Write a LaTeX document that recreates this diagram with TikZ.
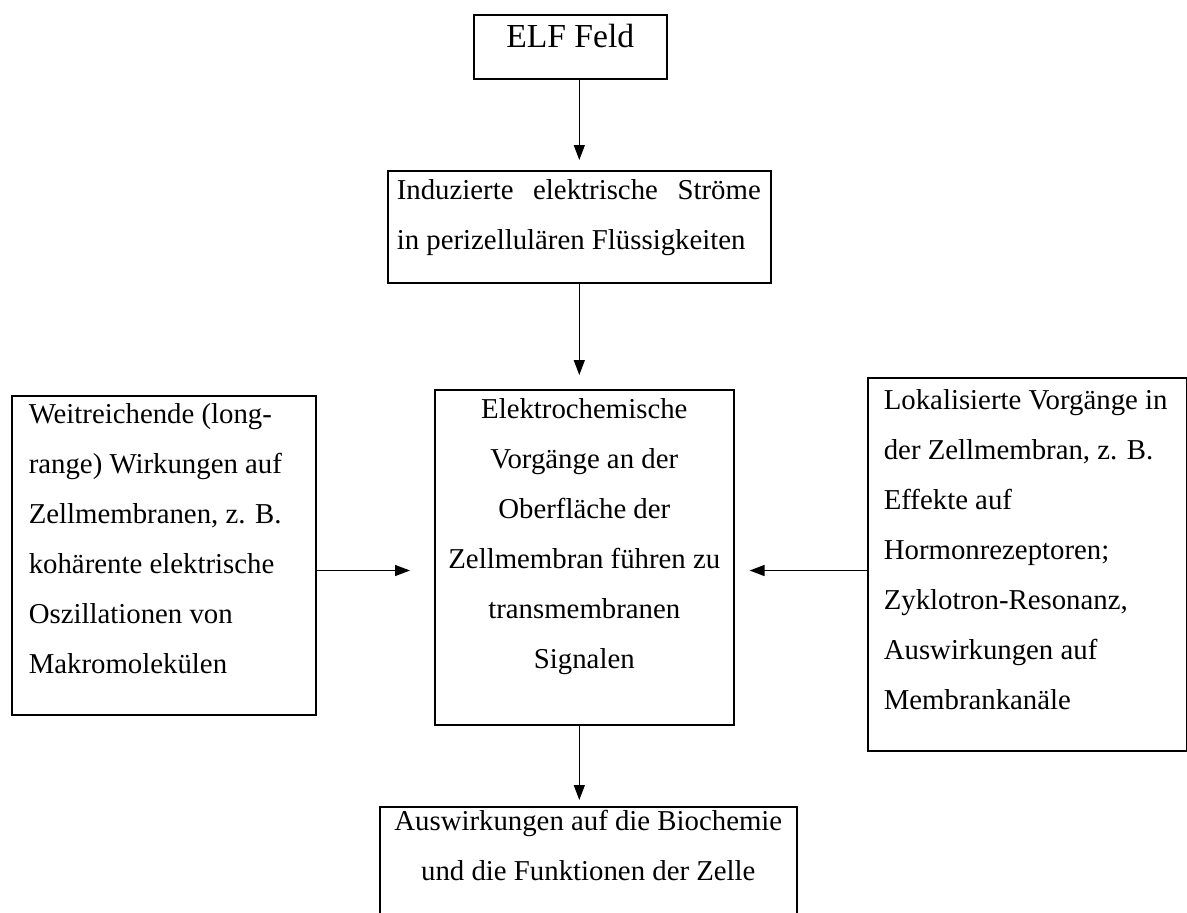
\documentclass[tikz,border=0pt]{standalone}
\usepackage{fontspec}
\setmainfont{Liberation Serif}
\usetikzlibrary{arrows.meta}
\newcommand{\schrift}{\fontsize{14.4}{25}\selectfont}
\newcommand{\kasten}[4]{\parbox[t][#2][t]{#1}{\schrift\rule{0pt}{#3}#4}}
\tikzset{
  box/.style={draw, line width=0.8pt, inner sep=0pt, anchor=north west},
  pfeil/.style={line width=0.7pt, -{Triangle[length=7.5pt,width=5.5pt]}}
}

\begin{document}
\begin{tikzpicture}[x=0.5pt,y=-0.5pt]
	%%%%% START %%%%%
	\useasboundingbox (0,0) rectangle (1187,912);
	
	\node[box] (elf) at (473,14) {\kasten{96.5pt}{32pt}{16.5pt}{\centering\fontsize{16.8}{20}\selectfont ELF Feld}};
	
	\node[box] (strom) at (387,170) {\kasten{191.5pt}{56pt}{14.5pt}{\leftskip=4.5pt \makebox[182pt][s]{Induzierte elektrische Ströme}\\ in perizellulären Flüssigkeiten}};
	
	\node[box] (mitte) at (434,389) {\kasten{149.5pt}{167.5pt}{14.5pt}{\centering Elektrochemische\\ Vorgänge an der\\ Oberfläche der\\ Zellmembran führen zu\\ transmembranen\\ Signalen}};
	
	\node[box] (links) at (11,395) {\kasten{152pt}{159.5pt}{14pt}{\raggedright\leftskip=8.5pt Weitreichende (long-\\ range) Wirkungen auf\\ Zellmembranen, z. B.\\ kohärente elektrische\\ Oszillationen von\\ Makromolekülen}};
	
	\node[box] (rechts) at (867,377) {\kasten{159.5pt}{186.5pt}{16pt}{\raggedright\leftskip=8pt Lokalisierte Vorgänge in\\ der Zellmembran, z. B.\\ Effekte auf\\ Hormonrezeptoren;\\ Zyklotron-Resonanz,\\ Auswirkungen auf\\ Membrankanäle}};
	
	\node[box] (folge) at (379,806) {\kasten{208.5pt}{65pt}{12pt}{\centering Auswirkungen auf die Biochemie\\ und die Funktionen der Zelle}};
	
	\coordinate (hoehe) at (0,570.5);
	
	\draw[pfeil, shorten >=5pt] (strom.north |- elf.south) -- (strom.north);
	\draw[pfeil, shorten >=7pt] (strom.south) -- (strom.south |- mitte.north);
	\draw[pfeil, shorten >=12pt] (links.east |- hoehe) -- (mitte.west |- hoehe);
	\draw[pfeil, shorten >=7.5pt] (rechts.west |- hoehe) -- (mitte.east |- hoehe);
	\draw[pfeil, shorten >=3pt] (strom.south |- mitte.south) -- (strom.south |- folge.north);
	
	%%%%% END %%%%%
\end{tikzpicture}
\end{document}
